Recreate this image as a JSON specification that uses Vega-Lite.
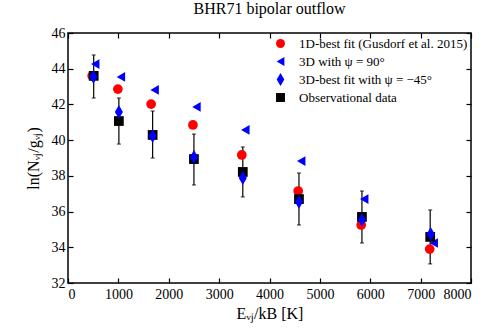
{
  "$schema": "https://vega.github.io/schema/vega-lite/v6.json",
  "width": 403,
  "height": 250,
  "autosize": "none",
  "padding": {"left": 68, "top": 33, "right": 27, "bottom": 48},
  "background": "white",
  "title": {"text": "BHR71 bipolar outflow", "font": "Liberation Serif", "fontSize": 16, "fontWeight": "normal", "color": "black", "offset": 9},
  "config": {
    "view": {"stroke": "black", "strokeWidth": 1.5},
    "axis": {
      "domain": false, "grid": false,
      "tickColor": "black", "tickSize": -5, "tickWidth": 1.2,
      "labelFont": "Liberation Serif", "labelFontSize": 14, "labelColor": "black",
      "titleFont": "Liberation Serif", "titleFontSize": 16, "titleFontWeight": "normal", "titleColor": "black"
    },
    "legend": {"labelFont": "Liberation Serif", "labelFontSize": 13, "labelColor": "black", "labelLimit": 0}
  },
  "data": {"values": [
    {"series": "Observational data", "E": 510, "v": 43.6, "lo": 42.36, "hi": 44.77},
    {"series": "Observational data", "E": 1010, "v": 41.07, "lo": 39.78, "hi": 42.36},
    {"series": "Observational data", "E": 1680, "v": 40.29, "lo": 39.0, "hi": 41.63},
    {"series": "Observational data", "E": 2500, "v": 38.94, "lo": 37.49, "hi": 40.34},
    {"series": "Observational data", "E": 3470, "v": 38.22, "lo": 36.82, "hi": 39.62},
    {"series": "Observational data", "E": 4585, "v": 36.7, "lo": 35.25, "hi": 38.16},
    {"series": "Observational data", "E": 5835, "v": 35.7, "lo": 34.24, "hi": 37.15},
    {"series": "Observational data", "E": 7190, "v": 34.58, "lo": 33.07, "hi": 36.09},
    {"series": "1D-best fit (Gusdorf et al. 2015)", "E": 480, "v": 43.6},
    {"series": "1D-best fit (Gusdorf et al. 2015)", "E": 990, "v": 42.86},
    {"series": "1D-best fit (Gusdorf et al. 2015)", "E": 1650, "v": 42.02},
    {"series": "1D-best fit (Gusdorf et al. 2015)", "E": 2480, "v": 40.85},
    {"series": "1D-best fit (Gusdorf et al. 2015)", "E": 3450, "v": 39.17},
    {"series": "1D-best fit (Gusdorf et al. 2015)", "E": 4570, "v": 37.15},
    {"series": "1D-best fit (Gusdorf et al. 2015)", "E": 5820, "v": 35.25},
    {"series": "1D-best fit (Gusdorf et al. 2015)", "E": 7180, "v": 33.9},
    {"series": "3D with ψ = 90°", "E": 540, "v": 44.26},
    {"series": "3D with ψ = 90°", "E": 1050, "v": 43.54},
    {"series": "3D with ψ = 90°", "E": 1720, "v": 42.81},
    {"series": "3D with ψ = 90°", "E": 2550, "v": 41.86},
    {"series": "3D with ψ = 90°", "E": 3520, "v": 40.57},
    {"series": "3D with ψ = 90°", "E": 4630, "v": 38.83},
    {"series": "3D with ψ = 90°", "E": 5880, "v": 36.7},
    {"series": "3D with ψ = 90°", "E": 7260, "v": 34.24},
    {"series": "3D-best fit with ψ = −45°", "E": 505, "v": 43.54},
    {"series": "3D-best fit with ψ = −45°", "E": 1010, "v": 41.58},
    {"series": "3D-best fit with ψ = −45°", "E": 1680, "v": 40.23},
    {"series": "3D-best fit with ψ = −45°", "E": 2500, "v": 39.06},
    {"series": "3D-best fit with ψ = −45°", "E": 3470, "v": 37.88},
    {"series": "3D-best fit with ψ = −45°", "E": 4585, "v": 36.54},
    {"series": "3D-best fit with ψ = −45°", "E": 5835, "v": 35.53},
    {"series": "3D-best fit with ψ = −45°", "E": 7200, "v": 34.75}
  ]},
  "resolve": {"axis": {"x": "independent", "y": "independent"}},
  "layer": [
    {
      "transform": [{"filter": "datum.series === 'Observational data'"}],
      "mark": {"type": "rule", "color": "black", "strokeWidth": 1.2},
      "encoding": {
        "x": {"field": "E", "type": "quantitative", "scale": {"domain": [0, 8000], "nice": false},
              "axis": {"orient": "top", "labels": false, "title": null, "values": [0,1000,2000,3000,4000,5000,6000,7000,8000]}},
        "y": {"field": "lo", "type": "quantitative", "scale": {"domain": [32, 46], "nice": false, "zero": false},
              "axis": {"orient": "right", "labels": false, "title": null, "values": [32,34,36,38,40,42,44,46]}},
        "y2": {"field": "hi"}
      }
    },
    {
      "transform": [{"filter": "datum.series === 'Observational data'"}],
      "mark": {"type": "tick", "orient": "horizontal", "color": "black", "size": 4, "thickness": 1.2},
      "encoding": {
        "x": {"field": "E", "type": "quantitative", "axis": null},
        "y": {"field": "lo", "type": "quantitative", "axis": null}
      }
    },
    {
      "transform": [{"filter": "datum.series === 'Observational data'"}],
      "mark": {"type": "tick", "orient": "horizontal", "color": "black", "size": 4, "thickness": 1.2},
      "encoding": {
        "x": {"field": "E", "type": "quantitative", "axis": null},
        "y": {"field": "hi", "type": "quantitative", "axis": null}
      }
    },
    {
      "transform": [{"filter": "datum.series !== '3D-best fit with ψ = −45°'"}],
      "mark": {"type": "point", "filled": true, "opacity": 1, "size": 95},
      "encoding": {
        "x": {"field": "E", "type": "quantitative",
              "axis": {"orient": "bottom", "title": "Eᵥⱼ/kB [K]", "format": "d", "values": [0,1000,2000,3000,4000,5000,6000,7000,8000], "labelPadding": 9, "titlePadding": 4}},
        "y": {"field": "v", "type": "quantitative",
              "axis": {"orient": "left", "title": "ln(Nᵥⱼ/gᵥⱼ)", "format": "d", "values": [32,34,36,38,40,42,44,46], "labelPadding": 8, "titlePadding": 10}},
        "color": {"field": "series", "type": "nominal",
          "scale": {"domain": ["1D-best fit (Gusdorf et al. 2015)", "3D with ψ = 90°", "3D-best fit with ψ = −45°", "Observational data"],
                    "range": ["#ff0000", "#0000ff", "#0000ff", "#000000"]},
          "legend": {"title": null, "orient": "none", "legendX": 206, "legendY": 4, "rowPadding": 4, "symbolSize": 80, "labelOffset": 12, "padding": 0}},
        "shape": {"field": "series", "type": "nominal",
          "scale": {"domain": ["1D-best fit (Gusdorf et al. 2015)", "3D with ψ = 90°", "3D-best fit with ψ = −45°", "Observational data"],
                    "range": ["circle", "triangle-left", "M0,-1.45L0.85,0L0,1.45L-0.85,0Z", "square"]},
          "legend": {"title": null, "orient": "none", "legendX": 206, "legendY": 4, "rowPadding": 4, "symbolSize": 80, "labelOffset": 12, "padding": 0}},
        "order": {"field": "series", "sort": "ascending"}
      }
    },
    {
      "transform": [{"filter": "datum.series === '3D-best fit with ψ = −45°'"}],
      "mark": {"type": "point", "filled": true, "opacity": 1, "size": 90},
      "encoding": {
        "x": {"field": "E", "type": "quantitative", "axis": null},
        "y": {"field": "v", "type": "quantitative", "axis": null},
        "color": {"field": "series", "type": "nominal"},
        "shape": {"field": "series", "type": "nominal"}
      }
    }
  ]
}
